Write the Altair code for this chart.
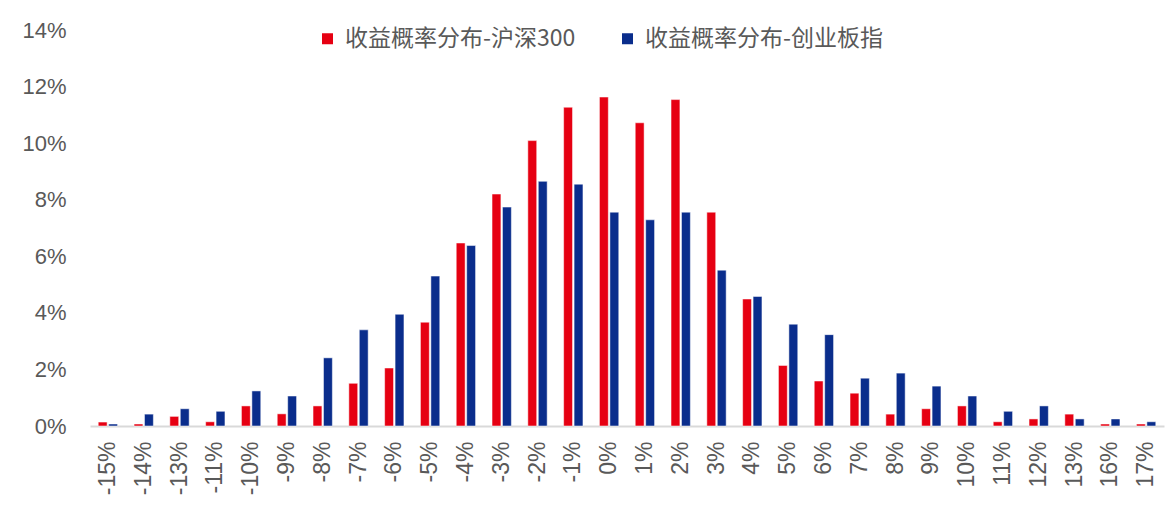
import altair as alt
import pandas as pd

categories = ["-15%", "-14%", "-13%", "-11%", "-10%", "-9%", "-8%", "-7%", "-6%", "-5%",
              "-4%", "-3%", "-2%", "-1%", "0%", "1%", "2%", "3%", "4%", "5%",
              "6%", "7%", "8%", "9%", "10%", "11%", "12%", "13%", "16%", "17%"]
hs300 = [0.14, 0.07, 0.34, 0.15, 0.71, 0.43, 0.71, 1.51, 2.05, 3.67,
         6.47, 8.20, 10.09, 11.27, 11.63, 10.72, 11.54, 7.56, 4.49, 2.14,
         1.59, 1.16, 0.42, 0.61, 0.71, 0.15, 0.25, 0.42, 0.07, 0.07]
cyb = [0.07, 0.42, 0.61, 0.52, 1.24, 1.06, 2.41, 3.40, 3.95, 5.30,
       6.38, 7.74, 8.65, 8.55, 7.56, 7.29, 7.56, 5.51, 4.58, 3.60,
       3.23, 1.69, 1.87, 1.41, 1.06, 0.52, 0.71, 0.25, 0.25, 0.15]
series_names = ["收益概率分布-沪深300", "收益概率分布-创业板指"]
colors = ["#E60012", "#0A2D8C"]

rows = []
for c, a, b in zip(categories, hs300, cyb):
    rows.append({"cat": c, "series": series_names[0], "value": a})
    rows.append({"cat": c, "series": series_names[1], "value": b})
df = pd.DataFrame(rows)

font = "Liberation Sans, Arial, Noto Sans CJK SC"

chart = alt.Chart(df).mark_bar(stroke="white", strokeWidth=0.5).encode(
    x=alt.X("cat:N", sort=categories, title=None,
            scale=alt.Scale(paddingInner=0.46, paddingOuter=0.23),
            axis=alt.Axis(labelAngle=270, labelFontSize=23, labelColor="#595959",
                          labelFont=font, ticks=False, tickSize=0, labelPadding=15,
                          domainColor="#D9D9D9", domainWidth=2, grid=False)),
    xOffset=alt.XOffset("series:N", sort=series_names,
                        scale=alt.Scale(paddingInner=0.15)),
    y=alt.Y("value:Q", title=None,
            scale=alt.Scale(domain=[0, 14], nice=False),
            axis=alt.Axis(values=[0, 2, 4, 6, 8, 10, 12, 14],
                          labelExpr="datum.value + '%'",
                          labelFontSize=22, labelColor="#595959", labelFont=font,
                          ticks=False, tickSize=0, labelPadding=24,
                          domain=False, grid=False)),
    color=alt.Color("series:N", sort=series_names,
                    scale=alt.Scale(domain=series_names, range=colors),
                    legend=alt.Legend(title=None, orient="none", direction="horizontal",
                                      legendX=226, legendY=-3,
                                      symbolType="square", symbolSize=121,
                                      symbolStrokeWidth=0, labelLimit=0,
                                      labelFontSize=23, labelColor="#595959",
                                      labelFont="Noto Sans CJK SC",
                                      columnPadding=40, labelOffset=6, padding=0)),
).properties(
    width=1074, height=396,
    background="white",
    autosize=alt.AutoSizeParams(type="none"),
    padding={"left": 82, "top": 22, "right": 4, "bottom": 76},
).configure_view(strokeWidth=0, stroke=None)

chart.save("out.html", embed_options={"renderer": "svg", "actions": False})
